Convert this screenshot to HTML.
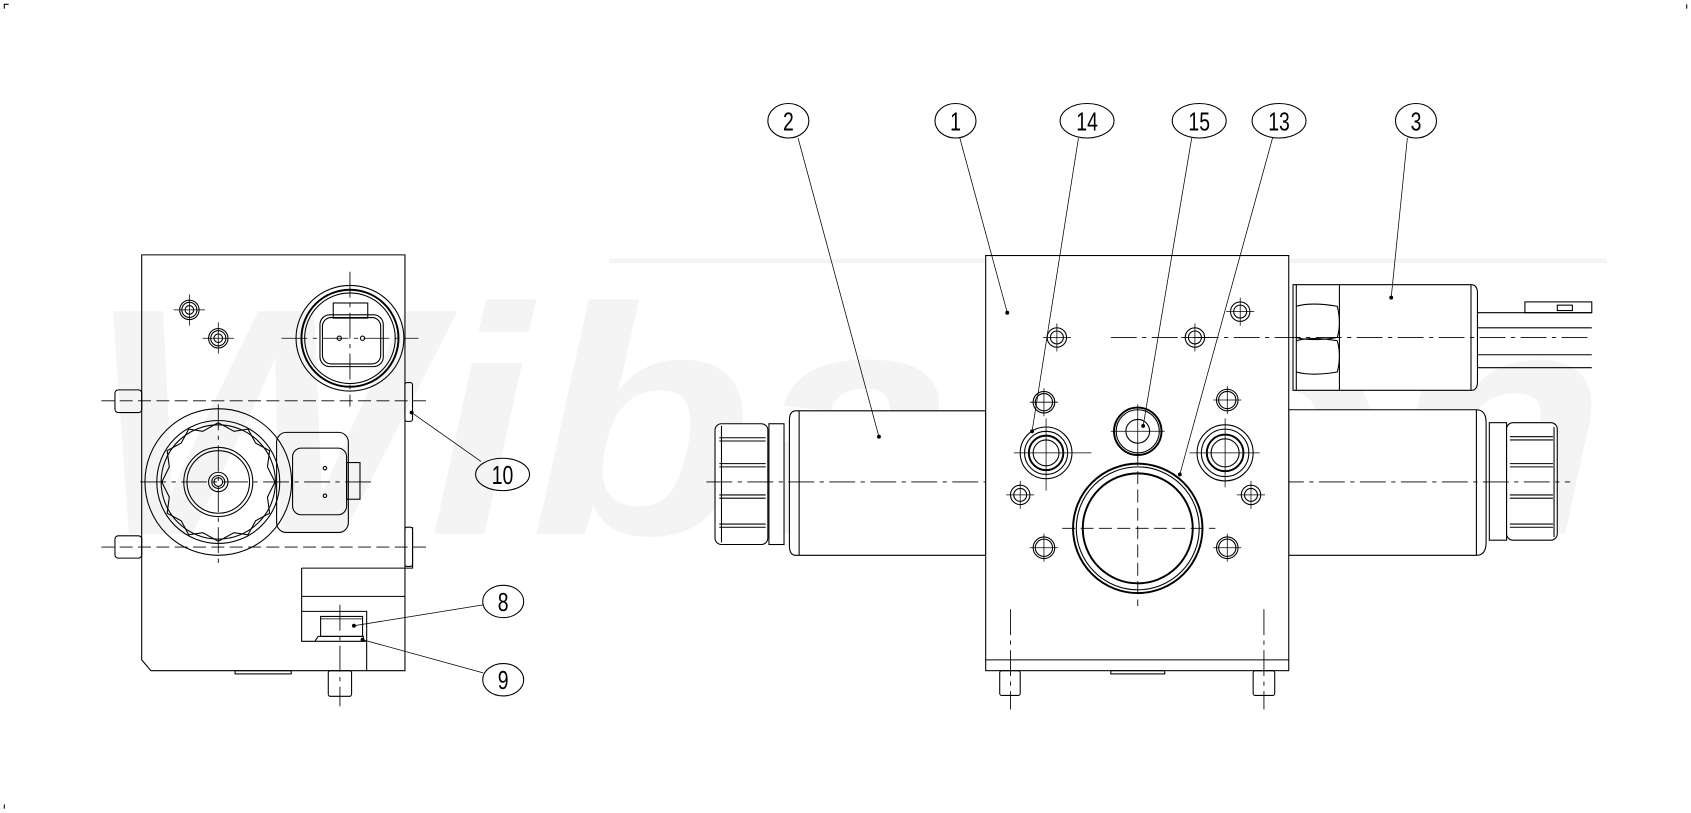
<!DOCTYPE html>
<html><head><meta charset="utf-8"><style>html,body{margin:0;padding:0;background:#fff}svg{display:block}</style></head>
<body>
<svg width="1691" height="813" viewBox="0 0 1568 754" preserveAspectRatio="none" xmlns="http://www.w3.org/2000/svg">
<defs><style>
.s{fill:none;stroke:#000;stroke-width:1}
.w{fill:#fff;stroke:#000;stroke-width:1}
.t{fill:none;stroke:#000;stroke-width:1.8}
.c{fill:none;stroke:#000;stroke-width:0.8;stroke-dasharray:24 5 4 5}
.d{fill:none;stroke:#000;stroke-width:0.8;stroke-dasharray:12 5}
.l{fill:none;stroke:#000;stroke-width:0.7}
.b{font-family:"Liberation Sans",sans-serif;font-size:24px;fill:#000;text-anchor:middle}
</style></defs>
<rect width="1568" height="754" fill="#fff"/>
<path class="s" d="M4 8V4H8M1564 4V8M4 746V750" />
<text x="80" y="495" font-family="Liberation Sans,sans-serif" font-weight="bold" font-style="italic" font-size="300" fill="#f4f4f4" textLength="1410" lengthAdjust="spacingAndGlyphs">Wibakon</text>
<line x1="565" y1="242" x2="1490" y2="242" stroke="#f3f3f3" stroke-width="4"/>

<!-- ===== LEFT VIEW ===== -->
<path class="s" d="M131.4 236.4H375.5V622H140L131.4 612Z"/>
<rect class="s" x="218" y="622" width="52" height="3"/>
<rect class="s" x="106.6" y="361.6" width="24.8" height="21" rx="3"/>
<rect class="s" x="106.6" y="496.9" width="24.8" height="20.7" rx="3"/>
<rect class="s" x="375.5" y="354.8" width="7" height="36" rx="2"/>
<rect class="s" x="375.5" y="488.9" width="7" height="36.4" rx="2"/>
<line class="d" x1="94" y1="371.7" x2="396" y2="371.7"/>
<line class="d" x1="94" y1="507.4" x2="396" y2="507.4"/>
<ellipse class="s" cx="324.5" cy="313.7" rx="50" ry="49"/>
<circle class="t" cx="324.5" cy="313.7" r="45"/>
<circle class="s" cx="324.5" cy="313.7" r="42"/>
<rect class="s" x="296.7" y="292" width="58.7" height="48" rx="9"/>
<rect class="s" x="299" y="294.5" width="54" height="43" rx="8"/>
<rect class="s" x="309" y="281" width="32" height="14"/>
<circle class="s" cx="314.6" cy="313.7" r="2"/>
<circle class="s" cx="336.2" cy="313.7" r="2"/>
<line class="c" x1="261" y1="313.7" x2="388" y2="313.7"/>
<line class="c" x1="324.5" y1="252" x2="324.5" y2="377"/>
<g><circle class="s" cx="175.6" cy="287.4" r="9"/><circle class="s" cx="175.6" cy="287.4" r="7"/><circle class="s" cx="175.6" cy="287.4" r="4"/><path class="l" d="M161 287.4H190M175.6 273V302"/></g>
<g><circle class="s" cx="202.4" cy="313.7" r="9"/><circle class="s" cx="202.4" cy="313.7" r="7"/><circle class="s" cx="202.4" cy="313.7" r="4"/><path class="l" d="M188 313.7H217M202.4 299V328"/></g>
<circle class="s" cx="202.4" cy="447" r="68"/>
<circle class="s" cx="202.4" cy="447" r="57"/>
<circle class="s" cx="202.4" cy="447" r="53"/>
<polygon class="s" points="202.4,392 217,400 230,398 237,411 250,418 248,433 255,447 248,461 250,476 237,483 230,496 217,494 202.4,502 188,494 175,496 168,483 155,476 157,461 150,447 157,433 155,418 168,411 175,398 188,400"/>
<circle class="s" cx="202.4" cy="447" r="32"/>
<circle class="s" cx="202.4" cy="447" r="29"/>
<circle class="s" cx="202.4" cy="447" r="9"/>
<circle class="s" cx="202.4" cy="447" r="6"/>
<circle class="s" cx="202.4" cy="447" r="4"/>
<line class="c" x1="130" y1="447" x2="349" y2="447"/>
<line class="c" x1="202.4" y1="375" x2="202.4" y2="522"/>
<rect class="s" x="256.5" y="401" width="66.5" height="92.8" rx="9"/>
<rect class="s" x="271.3" y="415.6" width="50.1" height="61.8" rx="8"/>
<rect class="s" x="321.4" y="429" width="12.4" height="34"/>
<circle class="s" cx="301.3" cy="434.2" r="1.6"/>
<circle class="s" cx="301.3" cy="459.8" r="1.6"/>
<path class="s" d="M279.7 526.9H382.6V488.9M279.7 526.9V594.8H340V622M279.7 553.1H375.5M279.7 567H340V594.8"/>
<rect class="s" x="297.3" y="571.7" width="38.9" height="18.5"/>
<line class="l" x1="297.3" y1="574" x2="336.2" y2="574"/>
<path class="s" d="M292 594.8L295 590.2H336.9V594.8"/>
<rect class="s" x="304.4" y="622" width="21.6" height="23.8" rx="2"/>
<line class="c" x1="315.2" y1="560.9" x2="315.2" y2="655"/>
<path class="l" d="M381.7 382.6L446 428M328.2 580.3L448 561M336.2 593.3L448 624"/>
<circle cx="381.7" cy="382.6" r="1.8"/><circle cx="328.2" cy="580.3" r="1.8"/><circle cx="336.2" cy="593.3" r="1.8"/>
<ellipse class="s" cx="466" cy="440" rx="25" ry="15"/><text class="b" transform="translate(466 449) scale(0.75 1)">10</text>
<ellipse class="s" cx="466.6" cy="557.8" rx="19" ry="15"/><text class="b" transform="translate(466.6 566.5) scale(0.75 1)">8</text>
<ellipse class="s" cx="466.6" cy="630.4" rx="19" ry="15"/><text class="b" transform="translate(466.6 639) scale(0.75 1)">9</text>

<!-- ===== RIGHT VIEW ===== -->
<path class="w" d="M914 381H738Q732 381 732 390V506Q732 515 738 515H914Z"/>
<line class="s" x1="741" y1="381" x2="741" y2="515"/>
<rect class="w" x="713" y="393" width="14" height="112"/>
<rect class="w" x="663" y="393" width="49" height="112" rx="6"/>
<path class="s" d="M667 406H710M667 409H710M667 430H710M667 433H710M667 459H710M667 462H710M667 486H710M667 489H710M669 395V503"/>
<path class="w" d="M1195 380H1369Q1378 380 1378 392V503Q1378 515 1369 515H1195Z"/>
<line class="s" x1="1369" y1="380" x2="1369" y2="515"/>
<rect class="w" x="1381" y="392" width="16" height="109"/>
<rect class="w" x="1397" y="392" width="47" height="109" rx="6"/>
<path class="s" d="M1400 405H1440M1400 408H1440M1400 430H1440M1400 433H1440M1400 459H1440M1400 462H1440M1400 486H1440M1400 489H1440M1441 396V498"/>
<line class="c" x1="655" y1="447" x2="925" y2="447"/>
<line class="c" x1="1185" y1="447" x2="1456" y2="447"/>
<path class="w" d="M1199 264H1364Q1370 264 1370 272V354Q1370 362 1364 362H1199Z"/>
<line class="s" x1="1242" y1="264" x2="1242" y2="362"/>
<path class="s" d="M1202 264V362M1202 284Q1216 280 1240 284Q1244 300 1240 313Q1216 317 1202 313M1202 316Q1216 312 1240 316Q1244 330 1240 345Q1216 349 1202 345M1364 264V362"/>
<path class="s" d="M1370 290H1476M1370 304H1476M1370 329H1476M1370 341H1476"/>
<rect class="s" x="1414" y="280" width="62" height="10"/>
<rect class="s" x="1444" y="283" width="14" height="5"/>
<rect class="w" x="914" y="237" width="281" height="385"/>
<line class="s" x1="914" y1="612" x2="1195" y2="612"/>
<rect class="s" x="1030" y="622" width="50" height="3"/>
<rect class="s" x="927" y="622" width="19" height="23" rx="2"/>
<rect class="s" x="1162" y="622" width="20" height="23" rx="2"/>
<line class="c" x1="937" y1="565" x2="937" y2="658"/>
<line class="c" x1="1172" y1="565" x2="1172" y2="658"/>
<line class="c" x1="1030" y1="313" x2="1476" y2="313"/>
<g><circle class="s" cx="980" cy="313" r="9"/><circle class="s" cx="980" cy="313" r="6"/><path class="l" d="M967 313H993M980 300V326"/></g>
<g><circle class="s" cx="1108" cy="313" r="9"/><circle class="s" cx="1108" cy="313" r="6"/><path class="l" d="M1095 313H1121M1108 300V326"/></g>
<g><circle class="s" cx="1150" cy="289" r="9"/><circle class="s" cx="1150" cy="289" r="6"/><path class="l" d="M1137 289H1163M1150 276V302"/></g>
<g><circle class="s" cx="968" cy="373" r="10"/><circle class="s" cx="968" cy="373" r="8"/><path class="l" d="M955 373H981M968 360V386"/></g>
<g><circle class="s" cx="1138" cy="371" r="10"/><circle class="s" cx="1138" cy="371" r="8"/><path class="l" d="M1125 371H1151M1138 358V384"/></g>
<g><circle class="s" cx="946" cy="459" r="9"/><circle class="s" cx="946" cy="459" r="6"/><path class="l" d="M933 459H959M946 446V472"/></g>
<g><circle class="s" cx="1160" cy="459" r="9"/><circle class="s" cx="1160" cy="459" r="6"/><path class="l" d="M1147 459H1173M1160 446V472"/></g>
<g><circle class="s" cx="968" cy="508" r="10"/><circle class="s" cx="968" cy="508" r="8"/><path class="l" d="M955 508H981M968 495V521"/></g>
<g><circle class="s" cx="1138" cy="508" r="10"/><circle class="s" cx="1138" cy="508" r="8"/><path class="l" d="M1125 508H1151M1138 495V521"/></g>
<circle class="s" cx="970" cy="420" r="24"/><circle class="s" cx="970" cy="420" r="20"/><circle class="t" cx="970" cy="420" r="16"/><circle class="s" cx="970" cy="420" r="12"/>
<path class="l" d="M940 420H1012M970 388V455"/>
<circle class="s" cx="1136" cy="420" r="26"/><circle class="s" cx="1136" cy="420" r="22"/><circle class="t" cx="1136" cy="420" r="17"/><circle class="s" cx="1136" cy="420" r="13"/>
<path class="l" d="M1103 420H1168M1136 388V452"/>
<circle class="t" cx="1055" cy="400" r="22"/><circle class="s" cx="1055" cy="400" r="20"/><circle class="s" cx="1055" cy="400" r="11"/>
<path class="l" d="M1030 400H1080M1055 375V425"/>
<circle class="t" cx="1055" cy="490" r="60"/><circle class="s" cx="1055" cy="490" r="57"/><circle class="t" cx="1055" cy="490" r="51"/>
<line class="d" x1="985" y1="490" x2="1127" y2="490"/>
<line class="d" x1="1055" y1="420" x2="1055" y2="562"/>
<path class="l" d="M740 128L815 405M890 128L934 290M1000 128L957 400M1105 128L1060 395M1180 128L1094 440M1305 128L1290 276"/>
<circle cx="815" cy="405" r="1.8"/><circle cx="934" cy="290" r="1.8"/><circle cx="957" cy="400" r="1.8"/><circle cx="1060" cy="395" r="1.8"/><circle cx="1094" cy="440" r="1.8"/><circle cx="1290" cy="276" r="1.8"/>
<ellipse class="s" cx="731" cy="112" rx="19" ry="16"/><text class="b" transform="translate(731 121) scale(0.75 1)">2</text>
<ellipse class="s" cx="886" cy="112" rx="19" ry="16"/><text class="b" transform="translate(886 121) scale(0.75 1)">1</text>
<ellipse class="s" cx="1008" cy="112" rx="25" ry="16"/><text class="b" transform="translate(1008 121) scale(0.75 1)">14</text>
<ellipse class="s" cx="1112" cy="112" rx="25" ry="16"/><text class="b" transform="translate(1112 121) scale(0.75 1)">15</text>
<ellipse class="s" cx="1186" cy="112" rx="25" ry="16"/><text class="b" transform="translate(1186 121) scale(0.75 1)">13</text>
<ellipse class="s" cx="1313" cy="112" rx="19" ry="16"/><text class="b" transform="translate(1313 121) scale(0.75 1)">3</text>
</svg>
</body></html>
